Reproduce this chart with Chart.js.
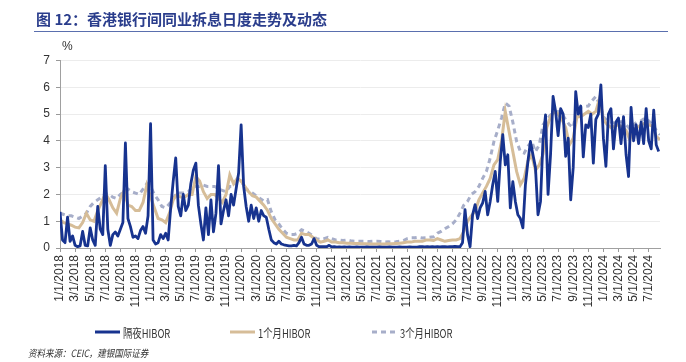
<!DOCTYPE html>
<html><head><meta charset="utf-8">
<script src="https://cdn.jsdelivr.net/npm/chart.js@4.4.1/dist/chart.umd.min.js"></script>
<style>
html,body{margin:0;padding:0;background:#fff;}
#wrap{position:relative;width:686px;height:362px;overflow:hidden;font-family:"Noto Sans CJK SC",sans-serif;}
#title{position:absolute;left:36px;top:9px;font-size:15px;font-weight:bold;color:#2a3d8c;white-space:nowrap;line-height:20px;}
#rule{position:absolute;left:34px;top:31px;width:634px;height:1px;background:#5a6fae;}
#unit{position:absolute;left:62px;top:39px;font-size:12px;color:#333;font-family:"Liberation Sans",sans-serif;}
#chartbox{position:absolute;left:0;top:0;width:686px;height:362px;}
.leg{position:absolute;top:324px;height:16px;display:flex;align-items:center;font-size:12px;color:#333;white-space:nowrap;font-family:"Noto Sans CJK SC",sans-serif;}
.leg svg{margin-right:3px;}
.leg span{display:inline-block;transform:scaleX(0.78);transform-origin:left center;}
#src{position:absolute;left:28px;top:345px;font-size:10px;font-style:italic;color:#333;white-space:nowrap;transform:scaleX(0.85);transform-origin:left center;}
</style></head>
<body>
<div id="wrap">
  <div id="chartbox"><canvas id="c"></canvas></div>
  <div id="title">图 12：香港银行间同业拆息日度走势及动态</div>
  <div id="rule"></div>
  <div id="unit">%</div>
  <div class="leg" style="left:95px"><svg width="25" height="6"><line x1="0" y1="3" x2="25" y2="3" stroke="#17338f" stroke-width="3"/></svg><span id="l0"></span></div>
  <div class="leg" style="left:230px"><svg width="25" height="6"><line x1="0" y1="3" x2="25" y2="3" stroke="#d6bd98" stroke-width="3"/></svg><span id="l1"></span></div>
  <div class="leg" style="left:372px"><svg width="25" height="6"><line x1="0" y1="3" x2="25" y2="3" stroke="#a7aec9" stroke-width="3" stroke-dasharray="5,4"/></svg><span id="l2"></span></div>
  <div id="src">资料来源：CEIC，建银国际证券</div>
</div>
<script>
// Series names
const SERIES_NAMES = ['隔夜HIBOR', '1个月HIBOR', '3个月HIBOR'];

// X tick labels (every 2 months, starting 1/1/2018)
const TICK_LABELS = [
 '1/1/2018','3/1/2018','5/1/2018','7/1/2018','9/1/2018','11/1/2018',
 '1/1/2019','3/1/2019','5/1/2019','7/1/2019','9/1/2019','11/1/2019',
 '1/1/2020','3/1/2020','5/1/2020','7/1/2020','9/1/2020','11/1/2020',
 '1/1/2021','3/1/2021','5/1/2021','7/1/2021','9/1/2021','11/1/2021',
 '1/1/2022','3/1/2022','5/1/2022','7/1/2022','9/1/2022','11/1/2022',
 '1/1/2023','3/1/2023','5/1/2023','7/1/2023','9/1/2023','11/1/2023',
 '1/1/2024','3/1/2024','5/1/2024','7/1/2024'
];
const TICK_STEP_MONTHS = 2;

// Overnight HIBOR (%), three readings per month from Jan 2018
const overnight = [
 1.35,0.3,0.2, 1.15,0.25,0.45, 0.1,0.05,0.08, 0.62,0.1,0.08, 0.75,0.3,0.1, 1.55,0.7,0.5,
 3.07,0.7,0.1, 0.5,0.6,0.45, 0.7,0.95,3.92, 1.1,0.8,0.4, 0.45,0.35,0.65, 0.8,0.55,1.2,
 4.64,0.3,0.15, 0.2,0.5,0.35, 0.55,0.3,1.5, 2.5,3.36,1.55, 1.2,2.0,1.4, 1.6,2.4,2.9,
 3.17,1.6,0.9, 0.3,1.5,0.5, 1.8,0.6,1.3, 3.07,0.9,1.4, 1.8,1.2,2.0, 1.6,2.2,2.8,
 4.6,2.3,1.55, 1.0,1.6,1.1, 1.5,1.0,1.4, 1.2,1.15,0.7, 0.3,0.2,0.15, 0.25,0.15,0.12,
 0.1,0.08,0.08, 0.1,0.08,0.2, 0.4,0.15,0.1, 0.1,0.15,0.35, 0.1,0.05,0.05, 0.05,0.05,0.1,
 0.04,0.05,0.03, 0.04,0.03,0.04, 0.03,0.04,0.03, 0.03,0.04,0.03, 0.03,0.03,0.04, 0.03,0.03,0.03,
 0.03,0.04,0.03, 0.03,0.03,0.04, 0.03,0.03,0.03, 0.04,0.03,0.03, 0.03,0.04,0.03, 0.03,0.03,0.05,
 0.05,0.04,0.05, 0.04,0.05,0.04, 0.05,0.04,0.05, 0.05,0.04,0.05, 0.05,0.06,0.05, 0.05,0.2,1.43,
 0.5,0.05,1.24, 1.62,1.1,1.5, 1.68,2.11,1.24, 1.74,2.36,2.86, 1.74,3.23,4.23, 3.1,3.48,1.5,
 2.48,1.74,1.24, 1.1,0.75,2.36, 3.23,3.98,3.48, 3.0,1.24,1.74, 4.05,4.97,2.0, 3.5,5.66,5.1,
 4.2,5.2,5.0, 3.42,4.1,1.8, 3.0,5.84,5.0, 5.3,3.4,4.6, 4.5,5.0,3.17, 4.8,5.0,6.09,
 4.1,3.05,5.0, 5.2,3.7,4.7, 4.85,3.9,4.9, 3.5,2.67,5.25, 4.0,4.6,3.9, 4.7,3.9,5.2,
 4.0,3.7,5.15, 3.85,3.6
];
const OVERNIGHT_PER_MONTH = 3;

// 1-month HIBOR (%), two readings per month from Jan 2018
const oneMonth = [
 1.05,0.95, 0.9,0.85, 0.78,0.75, 0.95,1.3, 1.05,1.0, 1.4,1.7,
 2.05,1.8, 1.5,1.3, 1.85,2.15, 1.6,1.55, 1.4,1.4, 1.7,2.35,
 1.9,1.5, 1.1,1.05, 0.95,1.3, 1.8,2.0, 1.9,1.9, 2.0,2.0,
 2.67,2.5, 2.1,1.85, 2.0,2.0, 1.85,1.7, 2.0,2.73, 2.4,2.6,
 2.5,2.3, 2.1,1.95, 1.9,1.75, 1.6,1.4, 1.1,0.9, 0.7,0.55,
 0.4,0.35, 0.3,0.3, 0.55,0.5, 0.5,0.4, 0.3,0.22, 0.25,0.3,
 0.22,0.22, 0.2,0.2, 0.18,0.18, 0.17,0.17, 0.16,0.16, 0.15,0.15,
 0.15,0.15, 0.15,0.16, 0.16,0.17, 0.18,0.2, 0.22,0.22, 0.25,0.25,
 0.25,0.3, 0.3,0.28, 0.35,0.3, 0.25,0.28, 0.3,0.3, 0.35,0.62,
 1.0,1.2, 1.37,1.8, 2.05,2.3, 2.6,3.1, 3.3,3.98, 5.1,4.35,
 3.6,2.86, 2.36,2.6, 3.25,3.48, 2.9,3.1, 3.5,4.5, 4.9,5.1,
 5.0,4.8, 4.5,3.85, 4.1,4.9, 4.9,5.0, 5.1,5.0, 5.1,5.6,
 4.8,4.6, 4.5,4.55, 4.6,4.5, 4.4,4.04, 4.45,4.5, 4.6,4.66,
 4.6,4.55, 4.17,4.04
];
const ONE_MONTH_PER_MONTH = 2;

// 3-month HIBOR (%), two readings per month from Jan 2018
const threeMonth = [
 1.3,1.25, 1.2,1.2, 1.15,1.1, 1.2,1.3, 1.55,1.7, 1.8,1.9,
 2.03,2.0, 1.9,1.85, 2.0,2.1, 2.2,2.1, 2.05,2.0, 2.2,2.4,
 2.3,2.0, 1.8,1.55, 1.5,1.65, 1.85,2.05, 2.05,2.05, 2.1,2.25,
 2.3,2.3, 2.35,2.3, 2.3,2.3, 2.2,2.15, 2.1,2.3, 2.3,2.5,
 2.55,2.2, 2.15,2.05, 1.95,1.85, 1.75,1.8, 1.35,1.05, 0.9,0.7,
 0.55,0.5, 0.5,0.55, 0.68,0.62, 0.55,0.45, 0.35,0.32, 0.35,0.4,
 0.35,0.3, 0.3,0.28, 0.3,0.27, 0.25,0.25, 0.25,0.25, 0.24,0.25,
 0.25,0.24, 0.22,0.23, 0.22,0.23, 0.25,0.28, 0.35,0.38, 0.38,0.4,
 0.37,0.38, 0.4,0.42, 0.55,0.62, 0.72,0.8, 0.9,1.05, 1.3,1.6,
 1.74,2.0, 2.1,2.3, 2.6,2.86, 3.36,3.98, 4.4,4.85, 5.41,5.3,
 4.7,3.98, 3.6,3.54, 3.8,3.98, 3.6,3.85, 4.6,4.8, 4.97,5.05,
 5.1,5.0, 4.8,4.6, 4.5,5.2, 5.25,5.28, 5.3,5.5, 5.66,5.35,
 4.9,4.75, 4.7,4.66, 4.7,4.72, 4.6,4.45, 4.6,4.72, 4.75,4.85,
 4.75,4.6, 4.4,4.23
];
const THREE_MONTH_PER_MONTH = 2;

const Y_MIN = 0, Y_MAX = 7, Y_STEP = 1;
const X_MAX_MONTHS = 79.5;

document.getElementById('l0').textContent = SERIES_NAMES[0];
document.getElementById('l1').textContent = SERIES_NAMES[1];
document.getElementById('l2').textContent = SERIES_NAMES[2];

const toPoints = (arr, perMonth) => arr.map((v, i) => ({x: i / perMonth, y: v}));

Chart.defaults.font.family = "'Liberation Sans', Arial, sans-serif";
Chart.defaults.color = '#333';

new Chart(document.getElementById('c'), {
  type: 'line',
  data: {
    datasets: [
      {label: SERIES_NAMES[0], data: toPoints(overnight, OVERNIGHT_PER_MONTH), borderColor: '#17338f', borderWidth: 2.8, pointRadius: 0, tension: 0, fill: false, borderJoinStyle: 'round'},
      {label: SERIES_NAMES[1], data: toPoints(oneMonth, ONE_MONTH_PER_MONTH), borderColor: '#d6bd98', borderWidth: 3, pointRadius: 0, tension: 0, fill: false},
      {label: SERIES_NAMES[2], data: toPoints(threeMonth, THREE_MONTH_PER_MONTH), borderColor: '#a7aec9', borderWidth: 3, borderDash: [5, 4], pointRadius: 0, tension: 0, fill: false}
    ]
  },
  options: {
    responsive: true,
    maintainAspectRatio: false,
    animation: false,
    layout: {padding: {left: 10, right: 26, top: 60.5, bottom: 49}},
    plugins: {legend: {display: false}, tooltip: {enabled: false}},
    scales: {
      x: {
        type: 'linear',
        min: 0,
        max: X_MAX_MONTHS,
        afterBuildTicks: (scale) => {
          scale.ticks = TICK_LABELS.map((_, k) => ({value: k * TICK_STEP_MONTHS}));
        },
        afterFit: (scale) => { scale.height = 65; },
        ticks: {
          autoSkip: false,
          minRotation: 90,
          maxRotation: 90,
          padding: 3,
          font: {size: 12},
          color: '#333',
          callback: (v, idx) => TICK_LABELS[idx]
        },
        grid: {display: true, drawOnChartArea: false, drawTicks: true, tickLength: 4, tickColor: '#999'},
        border: {display: true, color: '#a0a0a0', width: 1}
      },
      y: {
        min: Y_MIN,
        max: Y_MAX,
        afterFit: (scale) => { scale.width = 50; },
        ticks: {stepSize: Y_STEP, padding: 6, font: {size: 12}, color: '#333'},
        grid: {color: '#ececec', drawTicks: true, tickLength: 4, tickColor: '#999'},
        border: {display: true, color: '#a0a0a0', width: 1}
      }
    }
  }
});
</script>
</body></html>
